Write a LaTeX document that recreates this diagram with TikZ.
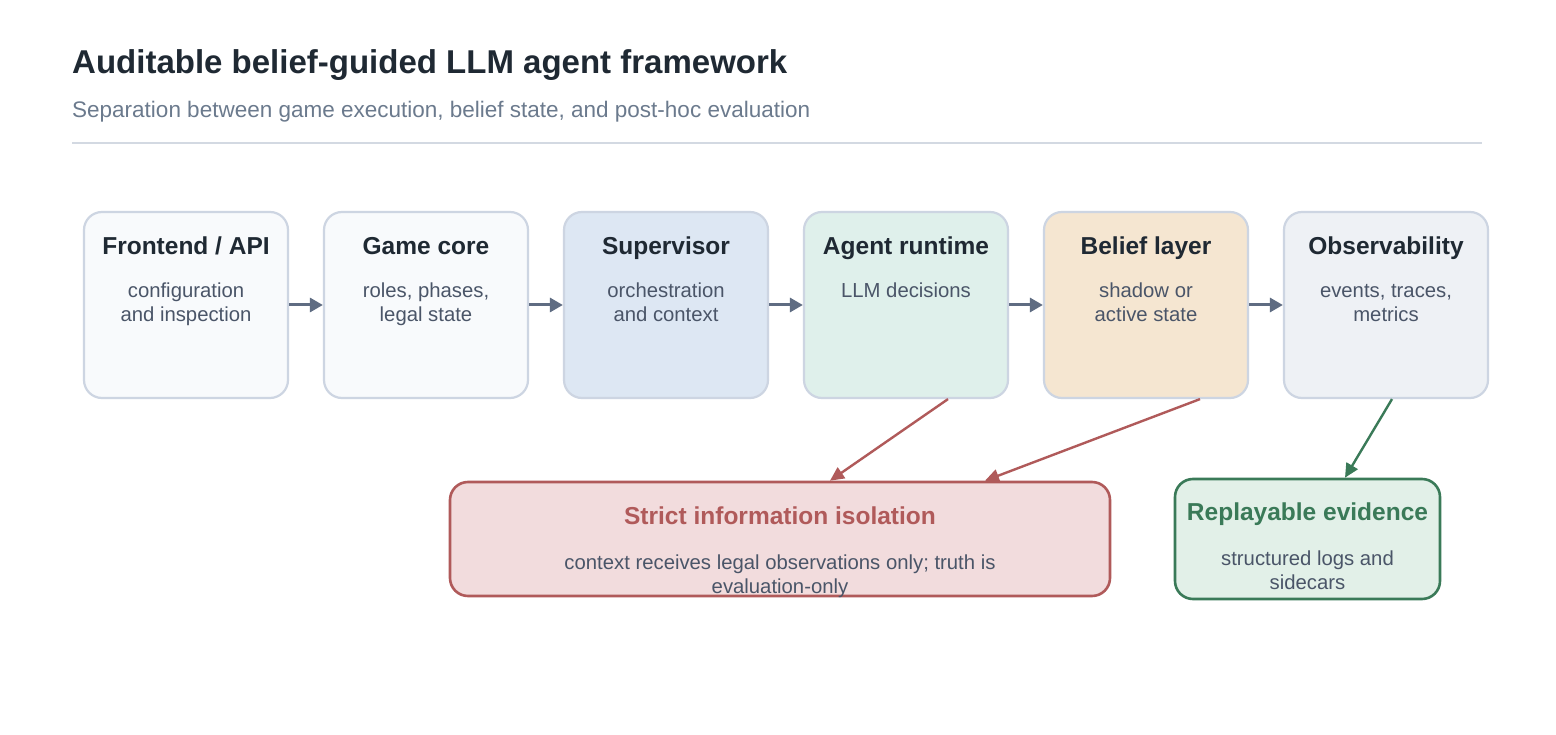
\documentclass[tikz,border=0pt]{standalone}
\usepackage{fontspec}
\setmainfont{Liberation Sans}
\usetikzlibrary{arrows.meta,calc}
\definecolor{titlec}{HTML}{1F2933}
\definecolor{subc}{HTML}{6B7A8D}
\definecolor{rulec}{HTML}{D3D9E2}
\definecolor{bordc}{HTML}{CDD5E2}
\definecolor{bodyc}{HTML}{4A5568}
\definecolor{arrc}{HTML}{5F6C82}
\definecolor{fA}{HTML}{F8FAFC}
\definecolor{fS}{HTML}{DDE7F3}
\definecolor{fR}{HTML}{DFF0EB}
\definecolor{fB}{HTML}{F5E6D1}
\definecolor{fO}{HTML}{EEF1F5}
\definecolor{redb}{HTML}{B05A5A}
\definecolor{redf}{HTML}{F2DCDD}
\definecolor{grnb}{HTML}{3A7A58}
\definecolor{grnf}{HTML}{E2F0E8}
\begin{document}
\begin{tikzpicture}[x=1pt,y=-1pt,
  stage/.style={draw=bordc,line width=2.2pt,rounded corners=18pt,minimum width=204pt,minimum height=186pt,inner sep=0pt},
  head/.style={font=\fontsize{24.5}{28}\selectfont\bfseries,text=titlec,inner sep=0pt,anchor=base},
  body/.style={font=\fontsize{20.3}{24}\selectfont,text=bodyc,align=center,inner sep=0pt,anchor=base},
  flow/.style={draw=arrc,line width=3pt,-{Triangle[length=13pt,width=14pt]}},
  redarr/.style={draw=redb,line width=2.4pt,-{Triangle[length=14pt,width=13pt]}},
  grnarr/.style={draw=grnb,line width=2.4pt,-{Triangle[length=14pt,width=13pt]}}]
\useasboundingbox (0,0) rectangle (1556,735);
\fill[white] (0,0) rectangle (1556,735);
\node[anchor=base west,inner sep=0pt,font=\fontsize{33}{38}\selectfont\bfseries,text=titlec] (title) at (72,74) {Auditable belief-guided LLM agent framework};
\node[anchor=base west,inner sep=0pt,font=\fontsize{22.5}{26}\selectfont,text=subc] (sub) at (72,117.5) {Separation between game execution, belief state, and post-hoc evaluation};
\draw[rulec,line width=1.5pt] (72,143) coordinate (r1) -- (1482,143) coordinate (r2);

\node[stage,fill=fA] (fe) at (186,305) {};
\node[stage,fill=fA] (gc) at (426,305) {};
\node[stage,fill=fS] (sv) at (666,305) {};
\node[stage,fill=fR] (ar) at (906,305) {};
\node[stage,fill=fB] (bl) at (1146,305) {};
\node[stage,fill=fO] (ob) at (1386,305) {};

\node[head] (fe-h) at ($(fe.north)+(0,43.5)$) {Frontend / API};
\node[body] (fe-b) at ($(fe.north)+(0,111)$) {configuration\\and inspection};
\node[head] (gc-h) at ($(gc.north)+(0,43.5)$) {Game core};
\node[body] (gc-b) at ($(gc.north)+(0,111)$) {roles, phases,\\legal state};
\node[head] (sv-h) at ($(sv.north)+(0,43.5)$) {Supervisor};
\node[body] (sv-b) at ($(sv.north)+(0,111)$) {orchestration\\and context};
\node[head] (ar-h) at ($(ar.north)+(0,43.5)$) {Agent runtime};
\node[body] (ar-b) at ($(ar.north)+(0,87)$) {LLM decisions};
\node[head] (bl-h) at ($(bl.north)+(0,43.5)$) {Belief layer};
\node[body] (bl-b) at ($(bl.north)+(0,111)$) {shadow or\\active state};
\node[head] (ob-h) at ($(ob.north)+(0,43.5)$) {Observability};
\node[body] (ob-b) at ($(ob.north)+(0,111)$) {events, traces,\\metrics};

\draw[flow] (fe) -- (gc);
\draw[flow] (gc) -- (sv);
\draw[flow] (sv) -- (ar);
\draw[flow] (ar) -- (bl);
\draw[flow] (bl) -- (ob);

\node[draw=redb,fill=redf,line width=2.6pt,rounded corners=18pt,minimum width=660pt,minimum height=114pt,inner sep=0pt] (iso) at (780,539) {};
\node[head,text=redb] (iso-h) at (780,524) {Strict information isolation};
\node[body] (iso-b) at (780,593) {context receives legal observations only; truth is\\evaluation-only};

\node[draw=grnb,fill=grnf,line width=2.6pt,rounded corners=18pt,minimum width=265pt,minimum height=120pt,inner sep=0pt] (rep) at (1307.5,539) {};
\node[head,text=grnb] (rep-h) at (1307.5,520) {Replayable evidence};
\node[body] (rep-b) at (1307.5,589) {structured logs and\\sidecars};

\draw[redarr] ($(ar.south)+(42,0)$) -- ($(iso.north)+(50,0)$);
\draw[redarr] ($(bl.south)+(54,0)$) -- ($(iso.north)+(205,0)$);
\draw[grnarr] ($(ob.south)+(6,0)$) -- ($(rep.north)+(37.5,0)$);
\end{tikzpicture}
\end{document}
